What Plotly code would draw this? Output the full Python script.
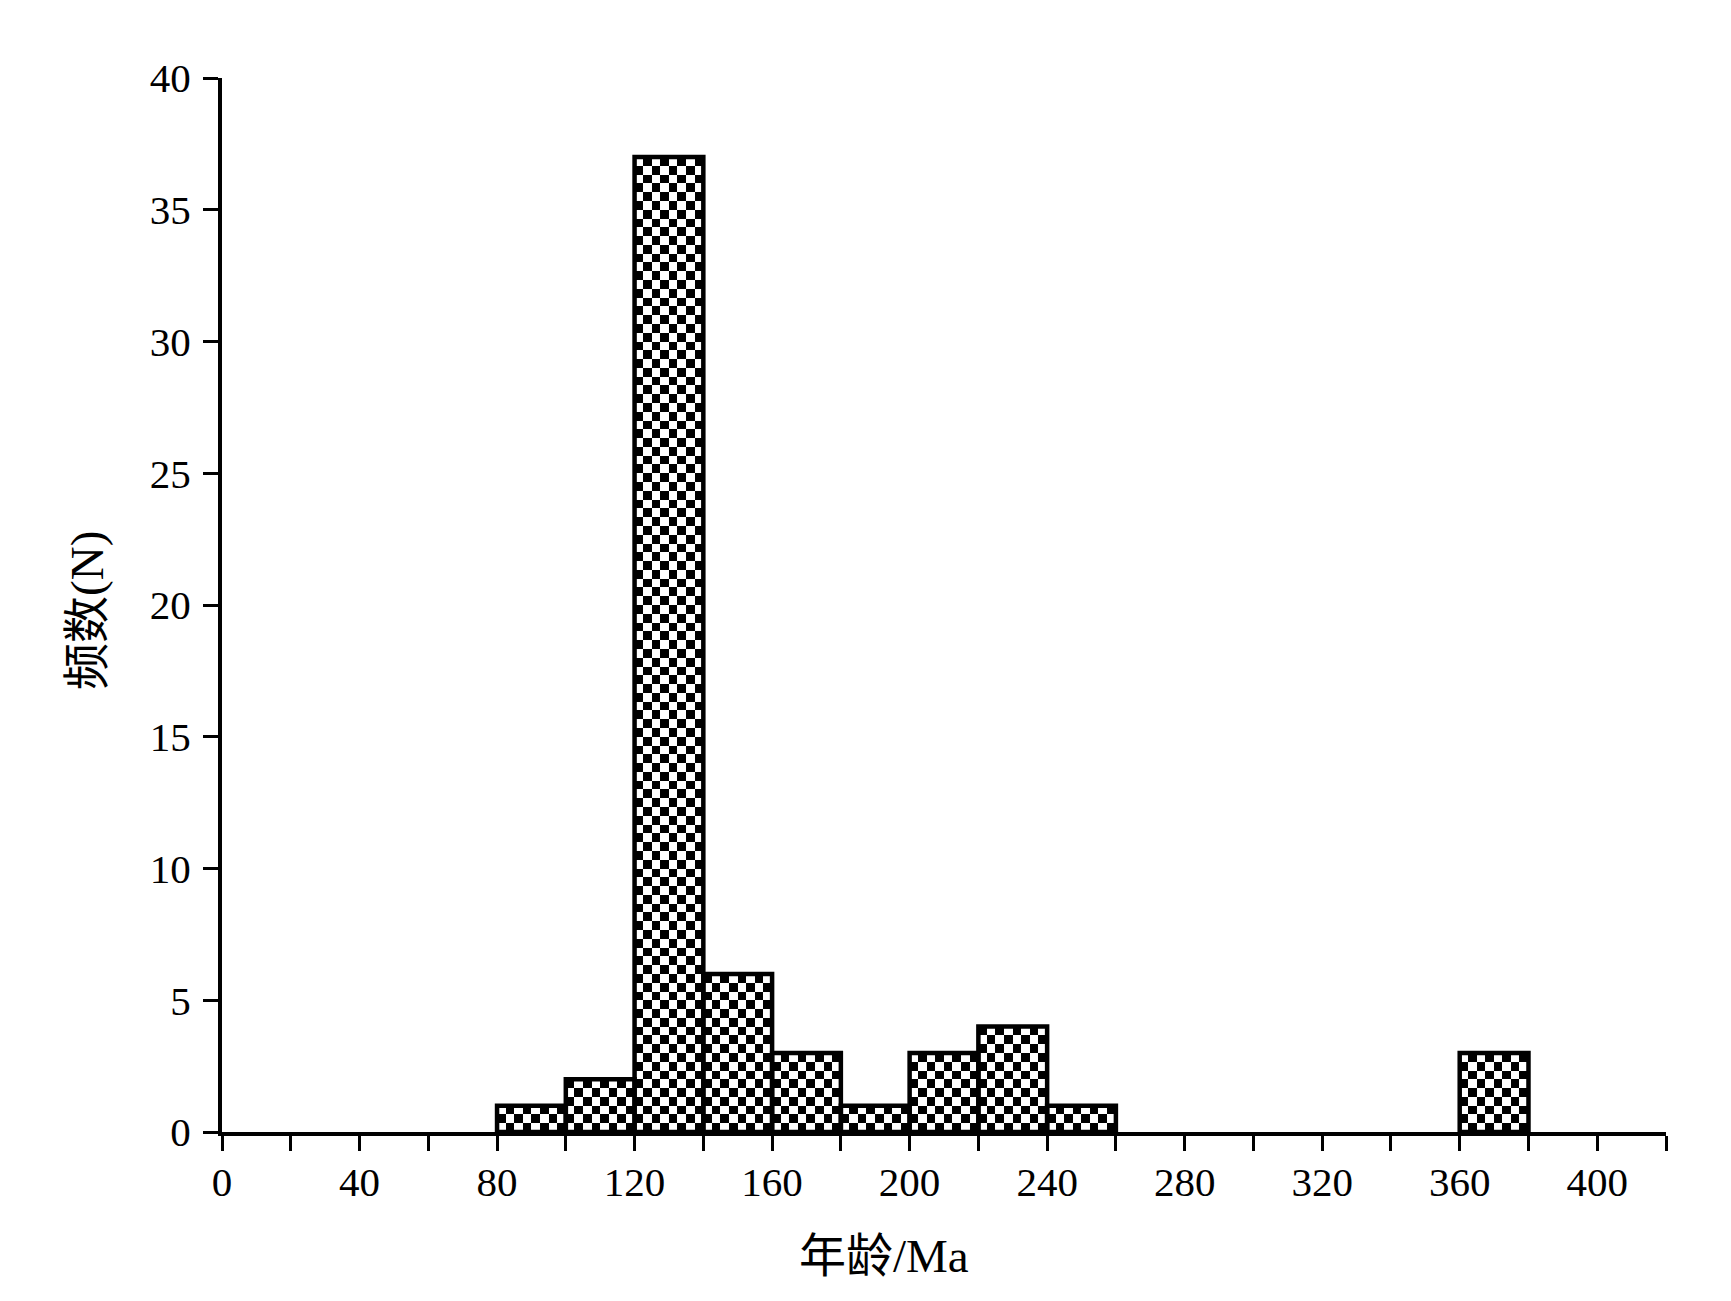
import plotly.graph_objects as go

# Histogram data: age bins (Ma) of width 20 and their counts
bin_starts = [0, 20, 40, 60, 80, 100, 120, 140, 160, 180, 200, 220, 240, 260,
              280, 300, 320, 340, 360, 380, 400]
counts = [0, 0, 0, 0, 1, 2, 37, 6, 3, 1, 3, 4, 1, 0, 0, 0, 0, 0, 3, 0, 0]
bin_width = 20

x_tick_vals = list(range(0, 421, 20))
x_tick_text = [str(v) if v % 40 == 0 else "" for v in x_tick_vals]
y_tick_vals = [0, 5, 10, 15, 20, 25, 30, 35, 40]

x_title = "年龄/Ma"
y_title = "频数(N)"

# checkerboard texture built from the bar data (cells per bin / per count)
cols_per_bin = 8
rows_per_unit = 3
cell_w = bin_width / cols_per_bin
cell_h = 1 / rows_per_unit
x_min = min(s for s, c in zip(bin_starts, counts) if c > 0)
x_max = max(s for s, c in zip(bin_starts, counts) if c > 0) + bin_width
n_cols = int(round((x_max - x_min) / cell_w))
n_rows = int(round(max(counts) * rows_per_unit))

count_of = dict(zip(bin_starts, counts))
z = []
for j in range(n_rows):
    row = []
    for i in range(n_cols):
        xc = x_min + (i + 0.5) * cell_w
        b = int((xc // bin_width) * bin_width)
        h = count_of.get(b, 0) * rows_per_unit
        row.append((i + j) % 2 if j < h else None)
    z.append(row)

fig = go.Figure()
fig.add_trace(go.Heatmap(
    z=z, x0=x_min + cell_w / 2, dx=cell_w, y0=cell_h / 2, dy=cell_h,
    colorscale=[[0, "white"], [1, "black"]], zmin=0, zmax=1,
    showscale=False, hoverinfo="skip",
))

bx = [s + bin_width / 2 for s, c in zip(bin_starts, counts) if c > 0]
by = [c for c in counts if c > 0]
fig.add_trace(go.Bar(
    x=bx, y=by, width=bin_width,
    marker=dict(color="rgba(0,0,0,0)", line=dict(color="black", width=4.5)),
    hoverinfo="skip",
))

font_family = "Liberation Serif, Times New Roman, Noto Sans CJK SC, serif"

fig.update_layout(
    width=1723, height=1293,
    margin=dict(l=214, r=65, t=70, b=169),
    paper_bgcolor="white", plot_bgcolor="white",
    showlegend=False,
    font=dict(family=font_family, size=41, color="black"),
    xaxis=dict(
        range=[0, 420], tickvals=x_tick_vals, ticktext=x_tick_text,
        showline=True, linewidth=4, linecolor="black",
        ticks="outside", ticklen=15, tickwidth=3, tickcolor="black",
        ticklabelstandoff=-4,
        showgrid=False, zeroline=False,
        tickfont=dict(family=font_family, size=41, color="black"),
    ),
    yaxis=dict(
        range=[0, 40], tickvals=y_tick_vals,
        showline=True, linewidth=4, linecolor="black",
        ticks="outside", ticklen=15, tickwidth=3, tickcolor="black",
        ticklabelstandoff=4,
        showgrid=False, zeroline=False,
        tickfont=dict(family=font_family, size=41, color="black"),
    ),
    annotations=[
        dict(text=x_title, xref="paper", yref="paper", x=0.4584, y=-0.118,
             xanchor="center", yanchor="middle", showarrow=False,
             font=dict(family=font_family, size=47, color="black")),
        dict(text=y_title, xref="paper", yref="paper", x=-0.0935, y=0.4953,
             xanchor="center", yanchor="middle", showarrow=False, textangle=-90,
             font=dict(family=font_family, size=47, color="black")),
    ],
)

fig.write_html("out.html")
